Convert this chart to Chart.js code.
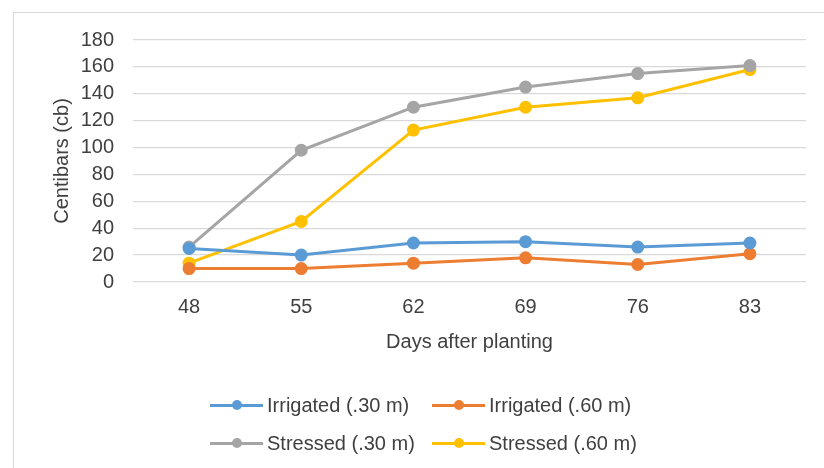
<!DOCTYPE html>
<html><head><meta charset="utf-8">
<script src="https://cdn.jsdelivr.net/npm/chart.js@4/dist/chart.umd.min.js"></script>
<style>
html,body{margin:0;padding:0;background:#fff;overflow:hidden;}
#frame{position:absolute;left:13px;top:12px;width:900px;height:600px;border:1.5px solid #d9d9d9;box-sizing:border-box;}
#wrap{position:absolute;left:0;top:0;width:824px;height:468px;}
.lg{position:absolute;height:24px;display:flex;align-items:center;font-family:"Liberation Sans",Arial,sans-serif;font-size:20px;color:#404040;white-space:nowrap;}
.sw{position:relative;width:53px;height:14px;margin-right:4px;}
.sw .ln{position:absolute;left:0;top:5.5px;width:53px;height:3px;}
.sw .dt{position:absolute;left:21.5px;top:2px;width:10px;height:10px;border-radius:50%;}
</style></head>
<body>
<div id="frame"></div>
<div id="wrap"><canvas id="c" width="824" height="468"></canvas></div>
<div id="legend"></div>
<script>
const days = ['48','55','62','69','76','83'];
const irrigated30 = [25, 20, 29, 30, 26, 29];
const irrigated60 = [10, 10, 14, 18, 13, 21];
const stressed30 = [26, 98, 130, 145, 155, 161];
const stressed60 = [14, 45, 113, 130, 137, 158];
const seriesNames = ['Irrigated (.30 m)', 'Irrigated (.60 m)', 'Stressed (.30 m)', 'Stressed (.60 m)'];
const colors = ['#5B9BD5', '#ED7D31', '#A5A5A5', '#FFC000'];
const yTicks = [0, 20, 40, 60, 80, 100, 120, 140, 160, 180];

const allData = [irrigated30, irrigated60, stressed30, stressed60];
const datasets = allData.map((d, i) => ({
  label: seriesNames[i],
  data: d,
  borderColor: colors[i],
  backgroundColor: colors[i],
  pointBackgroundColor: colors[i],
  pointBorderColor: colors[i],
  borderWidth: 3,
  pointRadius: 5,
  pointHoverRadius: 5,
  tension: 0,
  pointStyle: 'circle'
}));
const textColor = '#404040';
const font = {family: '"Liberation Sans", Arial, sans-serif', size: 20};

// HTML legend (two rows, two columns)
const legendPos = [[210, 393], [432, 393], [210, 431], [432, 431]];
const legendEl = document.getElementById('legend');
seriesNames.forEach((name, i) => {
  const item = document.createElement('div');
  item.className = 'lg';
  item.style.left = legendPos[i][0] + 'px';
  item.style.top = legendPos[i][1] + 'px';
  const sw = document.createElement('div'); sw.className = 'sw';
  const ln = document.createElement('div'); ln.className = 'ln'; ln.style.background = colors[i];
  const dt = document.createElement('div'); dt.className = 'dt'; dt.style.background = colors[i];
  sw.appendChild(ln); sw.appendChild(dt);
  const tx = document.createElement('span'); tx.textContent = name;
  item.appendChild(sw); item.appendChild(tx);
  legendEl.appendChild(item);
});

new Chart(document.getElementById('c'), {
  type: 'line',
  data: {labels: days, datasets: datasets},
  options: {
    responsive: false,
    animation: false,
    devicePixelRatio: 1,
    layout: {padding: {left: 0, right: 18, top: 40, bottom: 0}},
    plugins: {
      tooltip: {enabled: false},
      legend: {display: false}
    },
    scales: {
      x: {
        offset: true,
        grid: {display: false, drawTicks: false},
        border: {display: false},
        ticks: {color: textColor, font: font, padding: 13, autoSkip: false, maxRotation: 0},
        afterFit: (s) => { s.height = 186; },
        title: {display: true, text: 'Days after planting', color: textColor, font: font, padding: {top: 0, bottom: 114}}
      },
      y: {
        min: 0, max: 180,
        afterBuildTicks: (s) => { s.ticks = yTicks.map(v => ({value: v})); },
        afterFit: (s) => { s.width = 133; },
        grid: {color: '#d9d9d9', lineWidth: 1.3, drawTicks: false},
        border: {display: false},
        ticks: {color: textColor, font: font, padding: 19, autoSkip: false},
        title: {display: true, text: 'Centibars (cb)', color: textColor, font: font, padding: {top: 50, bottom: 0}}
      }
    }
  }
});
</script>
</body></html>
